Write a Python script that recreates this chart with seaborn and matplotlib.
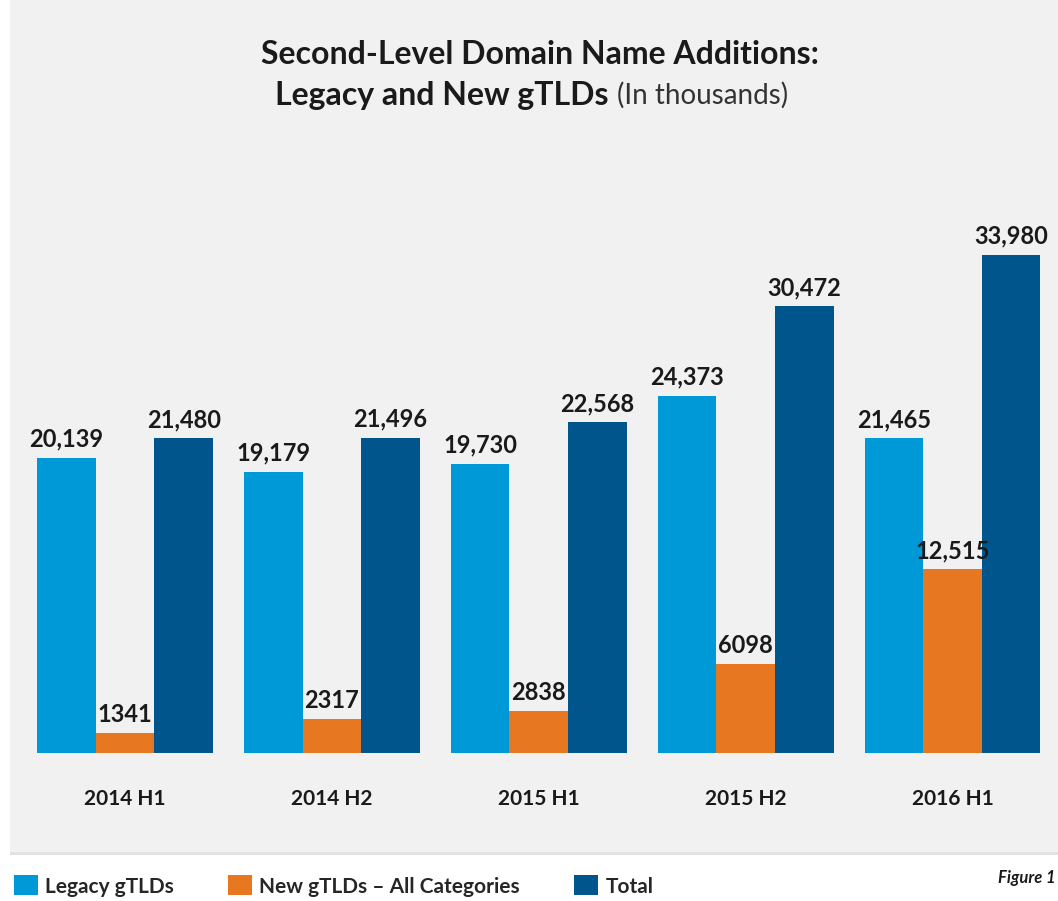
import matplotlib

matplotlib.use("Agg")

import matplotlib.pyplot as plt
import pandas as pd
import seaborn as sns
from matplotlib.patches import Rectangle

# Dados (em milhares)
PERIODOS = ["2014 H1", "2014 H2", "2015 H1", "2015 H2", "2016 H1"]
SERIES = ["Legacy gTLDs", "New gTLDs \u2013 All Categories", "Total"]
LEGACY = [20139, 19179, 19730, 24373, 21465]
NEW = [1341, 2317, 2838, 6098, 12515]
TOTAL = [21480, 21496, 22568, 30472, 33980]
CORES = ["#0099d8", "#e87722", "#00568c"]

FONTE = ["Lato", "DejaVu Sans"]


def _formatar(v):
    return f"{v:,}" if v >= 10000 else str(v)


def main():
    sns.set_theme(style="white")
    plt.rcParams["font.family"] = FONTE

    df = pd.DataFrame(
        {
            "periodo": PERIODOS * 3,
            "serie": [SERIES[0]] * 5 + [SERIES[1]] * 5 + [SERIES[2]] * 5,
            "valor": LEGACY + NEW + TOTAL,
        }
    )

    W, H = 1058, 901
    fig = plt.figure(figsize=(W / 100, H / 100), dpi=100)
    fig.patch.set_facecolor("white")

    # painel cinza de fundo
    fig.patches.append(
        Rectangle((10 / W, 1 - 852 / H), 1, 852 / H, transform=fig.transFigure,
                  facecolor="#f1f1f1", edgecolor="none", zorder=-10)
    )
    fig.patches.append(
        Rectangle((10 / W, 1 - 855 / H), 1, 3 / H, transform=fig.transFigure,
                  facecolor="#e2e2e2", edgecolor="none", zorder=-10)
    )

    ax = fig.add_axes([10 / W, 1 - 753 / H, 1 - 10 / W, (753 - 140) / H])
    ax.set_facecolor("none")
    ax.set_zorder(2)

    sns.barplot(
        data=df, x="periodo", y="valor", hue="serie", hue_order=SERIES,
        order=PERIODOS, palette=CORES, width=0.85, gap=0.0,
        saturation=1, linewidth=0, edgecolor="none", ax=ax, legend=True,
    )

    for cont, vals in zip(ax.containers, [LEGACY, NEW, TOTAL]):
        ax.bar_label(cont, labels=[_formatar(v) for v in vals], padding=5,
                     fontsize=17, fontweight="bold", color="#1a1a1a")

    ax.set_xlim(-0.556, 4.51)
    ax.set_ylim(0, 41800)
    ax.set_xlabel("")
    ax.set_ylabel("")
    ax.set_yticks([])
    ax.set_xticks(range(len(PERIODOS)))
    ax.set_xticklabels(PERIODOS, fontsize=15, fontweight="bold", color="#1a1a1a")
    ax.tick_params(axis="x", length=0, pad=26)
    for lado in ax.spines.values():
        lado.set_visible(False)

    handles, labels = ax.get_legend_handles_labels()
    ax.get_legend().remove()
    fig.legend(
        handles, labels, loc="center left", bbox_to_anchor=(14 / W, 1 - 886 / H),
        ncol=3, frameon=False, prop={"weight": "bold", "size": 15},
        handlelength=1.15, handleheight=1.1, handletextpad=0.35,
        columnspacing=2.6, borderaxespad=0, borderpad=0,
    )

    # título
    fig.text(540 / W, 1 - 55 / H, "Second-Level Domain Name Additions:",
             ha="center", va="center", fontsize=23, fontweight="bold",
             color="#1a1a1a")
    fig.text(609 / W, 1 - 95 / H, "Legacy and New gTLDs", ha="right",
             va="center", fontsize=23, fontweight="bold", color="#1a1a1a")
    fig.text(617 / W, 1 - 95 / H, "(In thousands)", ha="left", va="center",
             fontsize=20, color="#333333")

    fig.text(998 / W, 1 - 878 / H, "Figure 1", ha="left", va="center",
             fontsize=12, fontweight="bold", fontstyle="italic", color="#1a1a1a")

    fig.savefig("out.png", dpi=100, facecolor="white")
    plt.close(fig)


if __name__ == "__main__":
    main()
